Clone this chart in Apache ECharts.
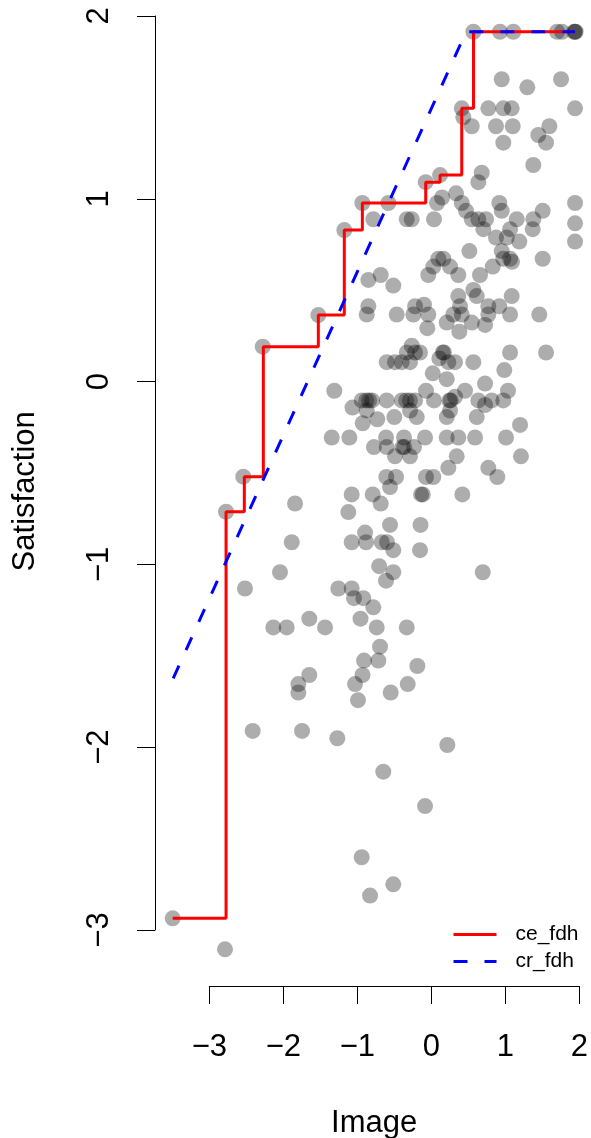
<!DOCTYPE html>
<html><head><meta charset="utf-8">
<script src="https://cdn.jsdelivr.net/npm/echarts@6/dist/echarts.min.js"></script>
<style>html,body{margin:0;padding:0;background:#fff}#c{width:591px;height:1138px}</style>
</head><body><div id="c"></div>
<script>
// Scatter data (Image, Satisfaction)
const imageX = [
  -3.495,-2.788,-2.774,-2.541,-2.278,-2.518,-2.045,-1.842,-1.886,-2.135,
  -1.954,-2.414,-1.747,-1.797,-1.797,-1.649,-1.649,-1.436,-1.270,-1.527,
  -1.176,-0.932,-1.311,-1.346,-1.108,-1.065,-1.076,-1.122,-1.076,-1.257,
  -1.076,-1.045,-0.919,-0.784,-0.957,-0.738,-0.332,-0.693,-0.716,-0.909,
  -0.189,-0.930,-0.319,-1.031,-0.549,-0.991,0.216,-0.649,-0.085,-0.941,
  -0.514,-0.828,-0.705,-0.514,0.695,-0.612,-0.896,-0.882,-0.670,-0.599,
  -0.514,-0.153,-0.558,-0.146,-0.684,-0.792,-0.139,-0.115,0.419,-0.558,
  -0.608,-0.477,-0.072,0.027,0.892,0.230,0.770,-0.491,-0.288,0.343,
  1.211,-0.776,-0.603,-0.390,-0.366,-0.234,
  -0.612,-0.369,-0.085,0.208,0.365,0.591,1.009,
  1.199,-0.927,-0.730,-0.500,-0.197,0.208,0.614,-0.873,-0.288,0.253,0.726,
  -0.941,-0.880,-0.840,-0.800,-0.603,-0.400,-0.340,-0.290,-0.220,0.036,0.245,0.262,0.635,0.816,0.973,
  0.320,0.455,-0.072,1.036,0.726,0.208,0.019,0.986,
  -0.603,-0.491,-0.400,-0.288,0.230,0.320,0.568,
  0.108,
  -0.332,-0.220,-0.153,0.155,0.170,1.064,1.550,
  -0.265,0.378,-0.054,0.726,0.208,0.546,
  -0.873,-0.468,-0.243,-0.041,0.297,0.411,0.770,1.064,1.459,
  -0.851,-0.220,0.388,0.770,0.919,
  -0.099,0.365,0.614,1.086,0.568,-0.514,-0.851,
  -0.684,-0.041,0.365,0.658,
  0.027,0.253,0.830,
  0.095,0.162,0.973,1.064,1.505,1.090,
  0.514,0.951,1.189,1.942,0.874,1.019,0.703,1.064,1.370,1.942,
  -0.784,-0.332,-0.265,0.036,0.546,0.635,0.739,1.154,1.378,
  0.469,0.951,1.505,
  -0.581,0.077,0.411,0.919,1.942,
  0.145,0.334,-0.076,0.635,0.118,0.681,1.378,0.973,1.550,1.446,
  0.546,0.874,1.100,1.595,0.432,
  0.411,0.770,0.973,1.086,1.942,
  1.297,0.951,1.753,
  0.568,0.928,1.108,1.699,1.766,1.942,1.930,1.950
];
const satisfactionY = [
  -2.936,-3.106,-0.712,-0.520,0.191,-1.132,-1.043,-0.667,-0.879,-1.345,
  -1.345,-1.911,-1.911,-1.655,-1.701,-1.605,-1.297,-1.345,-1.951,0.364,
  0.829,0.977,-0.050,-0.306,-0.306,-0.142,-0.617,-0.714,-0.879,-1.132,
  -1.132,-1.185,-1.185,-1.235,-1.297,-1.345,-1.345,-1.450,-1.526,-1.526,
  -1.556,-1.605,-1.655,-1.655,-1.701,-1.743,-1.988,-2.134,-2.322,-2.602,
  -2.750,-2.812,-1.010,-1.043,-1.043,-1.089,-0.826,-0.879,-0.879,-0.879,
  -0.922,-0.922,-0.784,-0.784,-0.667,-0.617,-0.617,-0.617,-0.617,-0.577,
  -0.522,-0.522,-0.522,-0.522,-0.522,-0.472,-0.472,-0.409,-0.409,-0.409,
  -0.409,-0.358,-0.358,-0.358,-0.358,-0.358,
  -0.306,-0.306,-0.306,-0.306,-0.306,-0.306,-0.306,
  -0.237,-0.228,-0.206,-0.194,-0.194,-0.194,-0.194,-0.158,-0.158,-0.158,-0.128,
  -0.103,-0.103,-0.103,-0.103,-0.103,-0.103,-0.103,-0.103,-0.103,-0.103,-0.103,-0.103,-0.103,-0.103,-0.103,
  -0.083,-0.050,-0.050,-0.050,-0.011,0.013,0.045,0.063,
  0.106,0.106,0.106,0.106,0.106,0.106,0.106,
  0.127,
  0.159,0.159,0.159,0.159,0.159,0.159,0.159,
  0.196,0.273,0.292,0.310,0.323,0.323,
  0.367,0.367,0.367,0.367,0.367,0.367,0.367,0.367,0.367,
  0.412,0.412,0.412,0.412,0.412,
  0.421,0.468,0.468,0.468,0.501,0.525,0.556,
  0.583,0.583,0.583,0.583,
  0.629,0.629,0.629,
  0.672,0.672,0.672,0.672,0.672,0.655,
  0.714,0.714,0.766,0.766,0.788,0.788,0.834,0.834,0.834,0.866,
  0.888,0.888,0.888,0.888,0.888,0.888,0.888,0.888,0.888,
  0.934,0.934,0.934,
  0.977,0.977,0.977,0.977,0.977,
  1.007,1.030,1.091,1.091,1.130,1.143,1.185,1.307,1.307,1.349,
  1.397,1.397,1.397,1.397,1.446,
  1.495,1.495,1.495,1.495,1.495,
  1.610,1.654,1.654,
  1.914,1.914,1.914,1.914,1.914,1.914,1.914,1.914
];
// CE-FDH ceiling (step) and CR-FDH ceiling (line)
const ceFdhX = [-3.495,-2.774,-2.527,-2.270,-1.527,-1.176,-0.932,-0.076,0.118,0.411,0.570,1.942];
const ceFdhY = [-2.936,-0.712,-0.520,0.191,0.364,0.829,0.977,1.091,1.130,1.495,1.914,1.914];
const crFdhX = [-3.488,0.470,1.942];
const crFdhY = [-1.623,1.914,1.914];
// Tick labels
const xTicks = [-3,-2,-1,0,1,2];
const yTicks = [-3,-2,-1,0,1,2];

const FONT = '"Liberation Sans", Arial, Helvetica, sans-serif';
const fmt = v => (v < 0 ? '\u2212' + Math.abs(v) : String(v));
const zip = (a, b) => a.map((v, i) => [v, b[i]]);

const chart = echarts.init(document.getElementById('c'), null, {renderer: 'canvas'});
const nameStyle = {fontSize: 31, color: '#000', fontFamily: FONT};
chart.setOption({
  animation: false,
  backgroundColor: '#ffffff',
  textStyle: {fontFamily: FONT},
  grid: [
    {left: 155, top: -2.28, width: 438.4, height: 987.1, outerBoundsMode: 'none', containLabel: false},
    {left: 155, top: 16, width: 40, height: 914, outerBoundsMode: 'none', containLabel: false},
    {left: 209.3, top: 936, width: 370, height: 50, outerBoundsMode: 'none', containLabel: false}
  ],
  xAxis: [
    {gridIndex: 0, type: 'value', min: -3.734, max: 2.19, name: 'Image', nameLocation: 'middle', nameGap: 123,
     nameTextStyle: nameStyle, axisLine: {show: false}, axisTick: {show: false}, axisLabel: {show: false}, splitLine: {show: false}},
    {gridIndex: 1, type: 'value', show: false, min: 0, max: 1},
    {gridIndex: 2, type: 'value', min: xTicks[0], max: xTicks[xTicks.length - 1], interval: 1, position: 'bottom',
     axisLine: {show: true, lineStyle: {color: '#000', width: 1}},
     axisTick: {show: true, length: 18, lineStyle: {color: '#000', width: 1}},
     axisLabel: {margin: 46, fontSize: 31, color: '#000', fontFamily: FONT, formatter: fmt},
     splitLine: {show: false}}
  ],
  yAxis: [
    {gridIndex: 0, type: 'value', min: -3.3, max: 2.1, name: 'Satisfaction', nameLocation: 'middle', nameGap: 114,
     nameTextStyle: nameStyle, axisLine: {show: false}, axisTick: {show: false}, axisLabel: {show: false}, splitLine: {show: false}},
    {gridIndex: 1, type: 'value', min: yTicks[0], max: yTicks[yTicks.length - 1], interval: 1, position: 'left',
     axisLine: {show: true, lineStyle: {color: '#000', width: 1}},
     axisTick: {show: true, length: 18, lineStyle: {color: '#000', width: 1}},
     axisLabel: {rotate: 90, margin: 40, fontSize: 31, color: '#000', fontFamily: FONT, formatter: fmt},
     splitLine: {show: false}},
    {gridIndex: 2, type: 'value', show: false, min: 0, max: 1}
  ],
  legend: {
    orient: 'vertical', left: 447, top: 919, itemWidth: 43, itemHeight: 14, itemGap: 6,
    data: ['ce_fdh', 'cr_fdh'],
    itemStyle: {opacity: 0},
    lineStyle: {width: 3},
    textStyle: {fontSize: 21, color: '#000', fontFamily: FONT, padding: [0, 0, 0, 14]}
  },
  series: [
    {type: 'scatter', xAxisIndex: 0, yAxisIndex: 0, symbol: 'circle', symbolSize: 16,
     itemStyle: {color: 'rgba(0,0,0,0.4)'}, emphasis: {disabled: true}, data: zip(imageX, satisfactionY)},
    {name: 'ce_fdh', type: 'line', xAxisIndex: 0, yAxisIndex: 0, step: 'end', symbol: 'none', showSymbol: false,
     itemStyle: {color: '#ff0000'}, lineStyle: {color: '#ff0000', width: 3}, emphasis: {disabled: true},
     data: zip(ceFdhX, ceFdhY)},
    {name: 'cr_fdh', type: 'line', xAxisIndex: 0, yAxisIndex: 0, symbol: 'none', showSymbol: false,
     itemStyle: {color: '#0000ff'}, lineStyle: {color: '#0000ff', width: 3, type: [14, 17]}, emphasis: {disabled: true},
     data: zip(crFdhX, crFdhY)}
  ]
});
</script>
</body></html>
